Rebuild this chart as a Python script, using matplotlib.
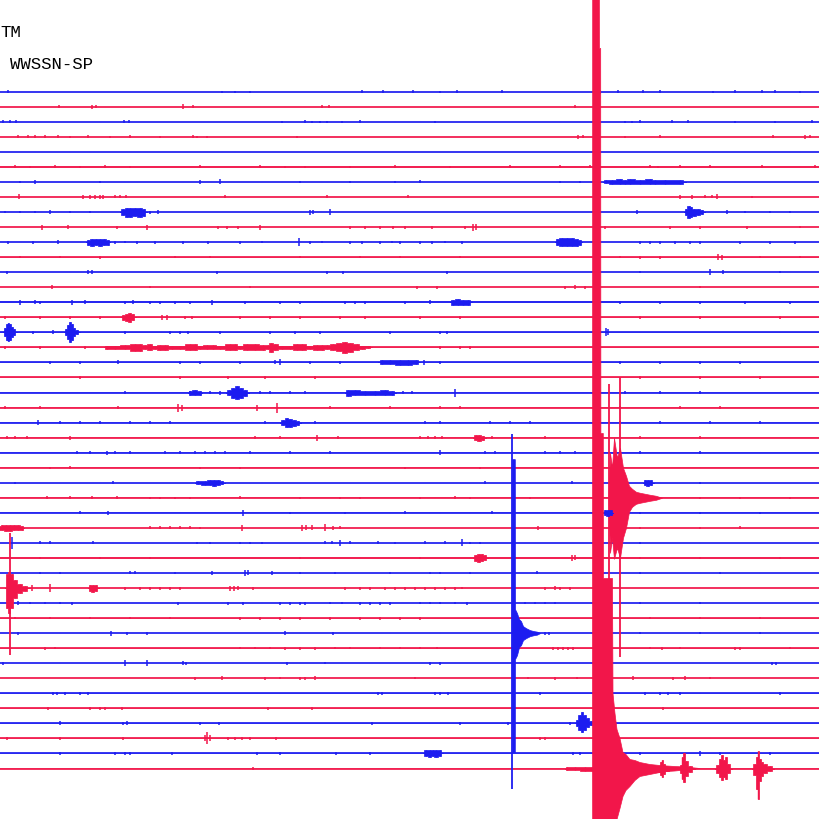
import matplotlib
matplotlib.use("Agg")
import matplotlib.pyplot as plt

# ---------------- data ----------------
# time axis: 0..820 (one unit per screen column); amplitudes in pixels
N_TRACES = 46
TRACE_COLORS = ["blue", "red"]          # alternating, first trace blue
HEADER_LINES = ["TM", "WWSSN-SP"]

# background noise half-width per trace
NOISE = [0, 0, 0, 0, 0, 0.7, 0.2, 0.2, 0.3, 0.2,
         0.3, 0.4, 0.2, 0.2, 0.8, 0.5, 0.2, 0.4, 0.2, 0.2,
         0.2, 0.3, 0.2, 0.2, 0.3, 0.4, 0.2, 0.4, 0.4, 0.3,
         0.3, 0.6, 0.2, 0.3, 0.3, 0.5, 0.3, 0.4, 0.2, 0.2,
         0.2, 0.3, 0.2, 0.2, 0.4, 0.3]

# small blips: trace -> [(time, half amplitude)]
BLIPS = {
    0: [(8, 1.5), (222, 1.2), (235, 1.2), (250, 1.2), (362, 1.5), (383, 1.5), (413, 1.5), (440, 1.2), (457, 1.5),
        (502, 1.5), (600, 2), (618, 1.5), (643, 1.5), (660, 1.5), (713, 1.2), (735, 1.5), (762, 1.5), (775, 1.5), (800, 1.2)],
    1: [(59, 1.5), (92, 2), (96, 1.5), (183, 2.5), (193, 1.5), (322, 1.5), (329, 1.5), (575, 1.5)],
    2: [(3, 1.5), (10, 1.5), (16, 1.5), (124, 1.5), (129, 1.5), (282, 1.2), (305, 1.5), (312, 1.2), (320, 1.2), (327, 1.2),
        (342, 1.2), (360, 1.5), (435, 1.2), (625, 1.2), (632, 1.2), (640, 1.5), (672, 1.5), (688, 1.5), (735, 1.2), (775, 1.2), (812, 1.5)],
    3: [(18, 1.5), (28, 1.5), (35, 1.5), (45, 1.5), (58, 1.5), (70, 1.2), (88, 1.5), (110, 1.2), (130, 1.5), (160, 1.2), (193, 1.5),
        (197, 1.2), (207, 1.2), (297, 1.2), (578, 2), (583, 1.5), (625, 1.2), (660, 1.5), (773, 1.5), (805, 2), (810, 1.5)],
    4: [],
    5: [(15, 1.5), (30, 1.2), (55, 1.5), (80, 1.2), (105, 1.5), (130, 1.2), (200, 1.5), (260, 1.5), (285, 1.2), (305, 1.2),
        (350, 1.2), (395, 1.5), (450, 1.2), (510, 1.5), (560, 1.5), (590, 1.5), (650, 1.5), (658, 1.2), (680, 1.5), (710, 1.5),
        (762, 1.5), (815, 1.5)],
    6: [(20, 1.2), (35, 2), (100, 1.2), (200, 2), (220, 2.5), (300, 1.2), (350, 1.2), (395, 1.2), (420, 1.5), (560, 1.2), (580, 1.2)],
    7: [(19, 2.5), (83, 2), (90, 2), (95, 2), (100, 2), (103, 2), (115, 1.5), (120, 1.5), (126, 1.5), (225, 1.5), (327, 1.5),
        (408, 1.5), (680, 2), (692, 2), (705, 1.5), (712, 1.5), (717, 2.5), (752, 1.2)],
    8: [(5, 1.2), (20, 1.2), (35, 1.2), (50, 2), (70, 1.2), (90, 1.2), (150, 1.5), (158, 2), (310, 2.5), (313, 2), (330, 3),
        (637, 2), (727, 2), (745, 1.2), (770, 1.2), (790, 1.2)],
    9: [(42, 2.5), (68, 2), (117, 1.5), (147, 2.5), (218, 1.5), (227, 1.5), (238, 1.5), (260, 2.5), (350, 1.5), (365, 1.5),
        (380, 1.5), (393, 1.5), (405, 1.5), (432, 1.5), (465, 1.5), (473, 3.5), (476, 3), (605, 1.5), (670, 1.5), (700, 1.5),
        (747, 1.5), (800, 1.2)],
    10: [(8, 1.5), (33, 1.5), (58, 2), (115, 1.5), (125, 1.2), (137, 1.5), (155, 1.5), (183, 1.5), (208, 1.5), (240, 1.5),
         (262, 1.2), (299, 4), (310, 1.5), (322, 1.2), (350, 1.5), (362, 1.5), (380, 1.5), (392, 1.2), (400, 1.5), (420, 1.5),
         (432, 1.5), (445, 1.2), (462, 1.5), (640, 1.5), (650, 1.5), (660, 1.5), (675, 1.5), (690, 1.5), (700, 1.5), (740, 1.5),
         (770, 1.5), (795, 1.5)],
    11: [(20, 1.2), (60, 1.2), (100, 1.5), (175, 1.2), (210, 1.2), (300, 1.2), (360, 1.2), (400, 1.2), (460, 1.2), (620, 1.2),
         (640, 1.5), (660, 1.5), (718, 3), (722, 2.5), (760, 1.2), (800, 1.2)],
    12: [(7, 1.5), (88, 2), (92, 2), (217, 1.5), (327, 1.5), (343, 1.5), (447, 1.5), (640, 1.2), (710, 3), (723, 2), (780, 1.2)],
    13: [(52, 2), (150, 1.2), (250, 1.2), (417, 1.5), (437, 1.5), (565, 1.5), (575, 2), (585, 1.5), (700, 1.2)],
    14: [(20, 2.5), (35, 2), (40, 1.5), (72, 2.5), (85, 2), (125, 1.5), (133, 2), (150, 1.5), (160, 1.5), (175, 1.5), (190, 1.5),
         (212, 2.5), (245, 1.5), (280, 1.5), (300, 1.5), (345, 1.5), (355, 1.5), (365, 1.5), (405, 1.5), (430, 2), (620, 1.5),
         (660, 1.5), (700, 1.5), (745, 1.5), (790, 1.5)],
    15: [(5, 1.5), (40, 1.2), (70, 1.2), (100, 1.2), (162, 2.5), (167, 2.5), (185, 1.5), (192, 1.5), (240, 1.5), (270, 1.5),
         (300, 1.5), (340, 1.5), (365, 1.5), (420, 1.2), (460, 1.5), (640, 1.2), (700, 1.2), (780, 1.2)],
    16: [(33, 1.5), (53, 2), (125, 1.5), (170, 1.5), (180, 1.5), (188, 1.5), (220, 1.5), (270, 1.5), (295, 1.5), (320, 1.2),
         (390, 1.5), (440, 1.5), (447, 1.5), (606, 4), (608, 3)],
    17: [(5, 1.5), (40, 1.5), (85, 1.2), (440, 1.5), (460, 1.5), (470, 1.5)],
    18: [(50, 1.2), (80, 1.2), (118, 2), (180, 1.2), (200, 1.2), (240, 1.2), (275, 2), (280, 3), (310, 1.2), (340, 1.2),
         (424, 2.5), (440, 1.2), (620, 1.2), (660, 1.2), (700, 1.2), (740, 1.2)],
    19: [(80, 1.5), (180, 1.2), (228, 1.5), (265, 1.2), (315, 1.2), (600, 1.2), (640, 1.2), (700, 1.2), (760, 1.2)],
    20: [(125, 1.5), (190, 1.5), (210, 1.5), (220, 2), (260, 1.5), (270, 1.5), (290, 1.2), (305, 1.2), (403, 1.5), (412, 1.5),
         (455, 4), (625, 1.5), (660, 1.2), (700, 1.2)],
    21: [(5, 1.5), (40, 1.2), (118, 1.5), (178, 4), (182, 3), (257, 3), (277, 5), (330, 1.5), (390, 1.5), (440, 1.5),
         (460, 1.2), (620, 1.2), (680, 1.2), (720, 1.2)],
    22: [(38, 2.5), (60, 1.2), (80, 1.2), (100, 1.2), (130, 1.2), (150, 1.2), (170, 1.2), (265, 1.5), (315, 1.2), (425, 1.2),
         (440, 1.2), (490, 1.2), (510, 1.2), (530, 1.5), (620, 1.2), (660, 1.5), (710, 1.2), (760, 1.2)],
    23: [(7, 1.5), (15, 1.5), (27, 1.5), (70, 2), (255, 1.2), (280, 1.5), (317, 3), (338, 1.5), (420, 1.5), (428, 1.5),
         (435, 1.5), (442, 1.5), (492, 1.5), (545, 1.2), (640, 1.2), (700, 1.2)],
    24: [(77, 1.5), (90, 1.5), (107, 2), (115, 1.5), (130, 1.5), (165, 1.5), (180, 1.5), (195, 1.5), (205, 1.5), (215, 1.5),
         (225, 1.2), (250, 1.2), (290, 1.5), (330, 1.5), (440, 2.5), (485, 1.2), (495, 1.2), (545, 1.2), (560, 1.2), (575, 1.2),
         (640, 1.2), (700, 1.2)],
    25: [(50, 1.2), (70, 1.5), (200, 1.2), (240, 1.2), (405, 1.2), (480, 1.2)],
    26: [(15, 1.2), (113, 1.5), (485, 1.5), (572, 1.5), (700, 1.2)],
    27: [(47, 1.5), (70, 1.5), (92, 1.5), (117, 1.5), (150, 1.2), (160, 1.2), (175, 1.2), (190, 1.2), (240, 1.5), (300, 1.2),
         (340, 1.2), (360, 1.2), (420, 1.2), (455, 1.5), (470, 1.2), (530, 1.2), (700, 1.2), (740, 1.2), (790, 1.2)],
    28: [(80, 1.5), (108, 2), (243, 3), (290, 1.2), (345, 1.2), (405, 1.5), (492, 1.5), (640, 1.2), (700, 1.2), (760, 1.2)],
    29: [(150, 1.5), (160, 1.5), (170, 1.5), (180, 1.5), (190, 1.5), (200, 1.2), (242, 3), (302, 3), (306, 2.5), (312, 2.5),
         (325, 3.5), (333, 2), (340, 1.5), (538, 2), (640, 1.2), (700, 1.2), (740, 1.5)],
    30: [(12, 6), (40, 1.5), (50, 1.5), (93, 1.5), (197, 1.2), (210, 1.2), (240, 1.2), (250, 1.2), (262, 1.2), (325, 1.5),
         (332, 1.5), (340, 3), (350, 1.5), (378, 1.5), (395, 1.2), (425, 1.5), (445, 1.5), (462, 3.5), (470, 1.2), (480, 1.2),
         (640, 1.2)],
    31: [(40, 1.2), (100, 1.2), (150, 1.2), (300, 1.2), (420, 1.2), (572, 3), (575, 2.5), (640, 1.2), (700, 1.2), (780, 1.2)],
    32: [(40, 1.2), (60, 1.2), (130, 1.5), (135, 1.5), (175, 1.2), (212, 2), (245, 3), (248, 2.5), (272, 2), (300, 1.2),
         (335, 1.2), (390, 1.2), (430, 1.2), (440, 1.2), (470, 1.2), (537, 1.5), (640, 1.2), (720, 1.2)],
    33: [(32, 3), (50, 4), (125, 1.5), (140, 1.5), (150, 1.5), (160, 1.5), (170, 1.5), (180, 1.5), (230, 2.5), (234, 2.5),
         (238, 2), (253, 1.5), (345, 1.5), (360, 1.5), (370, 1.5), (385, 1.5), (395, 1.5), (405, 1.5), (415, 1.5), (425, 1.5),
         (435, 1.5), (445, 1.5), (455, 1.5), (462, 1.2), (545, 1.5), (555, 2), (560, 1.5), (570, 1.5)],
    34: [(18, 2), (30, 1.2), (45, 1.2), (60, 1.2), (72, 1.5), (178, 1.5), (228, 1.5), (243, 1.5), (280, 1.5), (290, 1.5),
         (300, 1.5), (305, 1.5), (330, 1.2), (342, 1.2), (360, 1.5), (370, 1.5), (380, 1.5), (390, 1.5), (420, 1.2), (430, 1.2),
         (440, 1.2), (455, 1.2), (467, 1.5), (525, 1.2), (535, 1.2), (545, 1.2), (555, 1.2), (640, 1.2), (700, 1.2)],
    35: [(15, 1.2), (50, 1.2), (90, 1.2), (130, 1.2), (170, 1.2), (240, 1.5), (260, 1.5), (280, 1.5), (300, 1.5), (330, 1.5),
         (360, 1.5), (380, 1.5), (400, 1.5), (420, 1.5), (650, 1.2), (700, 1.2), (760, 1.2)],
    36: [(18, 1.5), (111, 2.5), (127, 1.5), (147, 1.5), (285, 2), (333, 1.5), (545, 1.5), (549, 1.5), (640, 1.2), (700, 1.2),
         (760, 1.2)],
    37: [(45, 1.5), (55, 1.2), (240, 1.2), (255, 1.2), (270, 1.2), (285, 1.5), (300, 1.5), (315, 1.5), (335, 1.2), (350, 1.2),
         (380, 1.2), (400, 1.2), (420, 1.2), (437, 1.2), (553, 1.5), (558, 1.5), (563, 1.5), (568, 1.5), (573, 1.5), (650, 1.2),
         (662, 1.5), (680, 1.2), (735, 1.5), (740, 1.5), (790, 1.2)],
    38: [(3, 1.5), (125, 3), (147, 3), (183, 2), (186, 1.5), (287, 1.5), (325, 1.2), (430, 1.5), (440, 1.5), (772, 1.5), (776, 1.5)],
    39: [(195, 1.5), (222, 2), (265, 1.5), (280, 1.2), (300, 1.5), (305, 1.5), (315, 2), (415, 1.2), (528, 1.2), (555, 1.5),
         (577, 1.2), (633, 2), (673, 1.5), (685, 2), (710, 1.2)],
    40: [(53, 1.5), (57, 1.5), (65, 1.5), (80, 1.2), (88, 1.2), (378, 1.5), (382, 1.5), (435, 1.2), (440, 1.2), (448, 1.2),
         (540, 1.2), (645, 1.2), (660, 1.5), (668, 1.5), (680, 1.2), (780, 1.2)],
    41: [(48, 1.5), (90, 1.5), (100, 1.5), (105, 1.5), (122, 1.5), (268, 1.2), (312, 1.2), (663, 1.5)],
    42: [(60, 2), (123, 1.5), (127, 2), (200, 1.5), (219, 1.2), (372, 1.5), (460, 1.5), (508, 1.5), (570, 1.5)],
    43: [(7, 1.5), (60, 1.5), (123, 1.5), (205, 3), (207, 6), (210, 3), (228, 1.5), (235, 1.5), (242, 1.5), (250, 1.5),
         (276, 1.2), (540, 1.2), (545, 1.5)],
    44: [(60, 1.5), (115, 1.5), (125, 1.5), (130, 1.5), (172, 1.5), (257, 1.2), (280, 1.2), (336, 1.2), (370, 1.5), (573, 1.5),
         (580, 1.2), (640, 1.2), (700, 2.5), (720, 1.5), (770, 1.5)],
    45: [(253, 1.2)],
}

# large single swings: (trace, time, up, down)
SPIKES = [
    (27, 609, 114, 159),
    (27, 620, 121, 159),
    (33, 10, 55, 67),
    (36, 512.5, 199, 156),
]

# wave trains / envelopes: (trace, times, up amplitudes, down amplitudes)
BURSTS = [
    (6, [603, 606, 612, 620, 625, 630, 640, 650, 655, 665, 680, 686],
        [0, 1.5, 2, 2.5, 2.2, 2.5, 2, 2.5, 2, 2, 2, 0], None),
    (8, [120, 123, 127, 130, 135, 140, 144, 147], [0, 3, 4.5, 4.5, 4, 4.5, 3.5, 0], None),
    (8, [684, 686, 689, 691, 694, 698, 702, 705], [0, 3, 6, 5, 3.5, 3, 2, 0], None),
    (10, [86, 88, 92, 96, 100, 104, 108, 110], [0, 2.5, 3.5, 3, 3.5, 3, 2.5, 0], None),
    (10, [555, 557, 562, 567, 572, 577, 580, 582], [0, 3, 4, 4, 4, 3.5, 2.5, 0], None),
    (14, [450, 453, 458, 463, 468, 472], [0, 2.5, 3, 2.5, 2.5, 0], None),
    (15, [121, 123, 127, 130, 133, 136], [0, 2.5, 3.5, 4.5, 3, 0], None),
    (16, [3, 5, 7, 8.5, 10, 12, 14, 17], [0, 4, 8, 9, 8, 5, 3, 0], None),
    (16, [64, 66, 68, 70, 72, 74, 77, 80], [0, 3, 7, 10, 8, 4, 2, 0], None),
    (17, [104, 107, 115, 125, 135, 140, 145, 150, 155, 160, 165, 172, 180, 190, 195, 200, 207, 213, 220, 230,
          235, 240, 247, 255, 263, 268, 271, 275, 282, 290, 297, 302, 310, 317, 322, 327, 333, 340, 345, 350,
          357, 362, 368, 372],
         [0, 1.5, 1.5, 2, 3.5, 3.5, 2, 3, 1.5, 2.5, 2.5, 1.2, 1.5, 3, 3, 1.5, 2, 2, 1.2, 3,
          3, 1.5, 3, 3, 2.5, 2, 4.5, 3, 1.5, 1.2, 3, 3, 1.2, 2.5, 2.5, 2, 3, 4, 5.5, 4.5,
          3, 1.5, 1, 0], None),
    (18, [378, 382, 390, 400, 408, 416, 420], [0, 2, 2, 2.5, 2.5, 2, 0], None),
    (20, [226, 229, 233, 237, 241, 245, 249], [0, 2.5, 5, 6.5, 5, 3, 0], None),
    (20, [188, 190, 195, 200, 202], [0, 2, 2.5, 2, 0], None),
    (20, [345, 348, 355, 365, 375, 385, 392, 396], [0, 3, 2.5, 2, 2, 2.5, 2, 0], None),
    (22, [280, 283, 287, 290, 294, 298, 301], [0, 2.5, 4.5, 4, 3, 2, 0], None),
    (23, [473, 476, 479, 483, 486], [0, 2.5, 3, 2, 0], None),
    (26, [195, 198, 205, 210, 214, 218, 222, 225], [0, 1.5, 2, 2.5, 3, 2.5, 1.5, 0], None),
    (26, [643, 645, 648, 651, 654], [0, 2.5, 3, 2.5, 0], None),
    (27, [608.5, 610, 612, 614, 617, 620, 623, 626, 629, 632, 636, 640, 645, 650, 656, 662],
         [0, 45, 30, 60, 40, 50, 30, 22, 12, 9, 6, 5, 4, 3, 2, 0],
         [0, 55, 40, 61, 50, 60, 40, 30, 14, 9, 6, 5, 4, 3, 2, 0]),
    (28, [603, 605, 608, 611, 613], [0, 2.5, 3, 2.5, 0], None),
    (29, [0, 2, 6, 10, 14, 18, 22, 24], [2, 2.5, 3, 3, 2.5, 2.5, 2, 0], None),
    (31, [473, 476, 479, 482, 485, 488], [0, 3, 4, 3.5, 2.5, 0], None),
    (33, [5, 7, 9, 12, 15, 20, 25, 30], [0, 14, 16, 14, 8, 4, 2.5, 0], [0, 20, 25, 20, 10, 5, 2.5, 0]),
    (33, [88, 90, 93, 96, 99], [0, 3, 3.5, 3, 0], None),
    (36, [512, 512.3, 514.8, 515, 517, 519, 521, 523, 526, 530, 534, 537, 540],
         [0, 174, 174, 24, 20, 14, 12, 7, 5, 3, 2, 1.5, 0], [0, 119, 119, 26, 22, 14, 12, 7, 5, 3, 2, 1.5, 0]),
    (42, [575, 577, 580, 582, 585, 588, 591, 594], [0, 3, 8, 11, 8, 5, 2.5, 0], [0, 3, 7, 9, 7, 4, 2, 0]),
    (44, [423, 426, 430, 433, 436, 440, 443], [0, 3, 3.5, 3, 3.5, 3, 0], None),
    (45, [565, 567, 575, 585, 592], [0, 1.5, 1.5, 2, 2], None),
    (45, [592.5, 592.7, 599.3, 599.5, 600.7, 600.9, 603.3, 603.5, 612.5, 613, 615, 617, 620, 623, 626, 630, 635,
          640, 645, 650, 655, 660, 667, 675, 685, 700],
         [0, 820, 820, 720, 720, 335, 335, 190, 190, 75, 55, 39, 30, 16, 14, 9, 8, 6, 5, 4, 3.5, 3, 2.5, 2, 1.5, 0],
         [0, 60, 60, 60, 60, 60, 60, 60, 60, 55, 52, 51, 40, 28, 22, 18, 12, 8, 7, 6, 5, 4, 3, 2.5, 1.5, 0]),
    (45, [657, 659, 661, 662.5, 664, 667, 671], [0, 3, 7, 9, 5, 2, 0], [0, 3, 6, 8, 5, 2, 0]),
    (45, [679, 681, 682.5, 684, 686, 690, 695], [0, 4, 12, 16, 8, 3, 0], [0, 4, 10, 13, 7, 3, 0]),
    (45, [715, 718, 720, 722, 724, 726, 728, 732], [0, 4, 10, 14, 9, 12, 5, 0], [0, 4, 8, 11, 8, 10, 4, 0]),
    (45, [752, 755, 757, 758.5, 760, 762, 765, 770, 774], [0, 5, 12, 18, 10, 7, 5, 3, 0], [0, 6, 20, 30, 12, 7, 4, 2, 0]),
]

# ---------------- layout / style ----------------
W = H = 820
TOP = 92.7
SPACING = 15.04
COLOR_MAP = {"blue": "#1c1cf0", "red": "#f2164a"}

fig = plt.figure(figsize=(W / 100, H / 100), dpi=100)
ax = fig.add_axes([0, 0, 1, 1])
ax.set_xlim(0, W)
ax.set_ylim(H, 0)
ax.axis("off")
fig.patch.set_facecolor("white")


def base(i):
    return TOP + i * SPACING


def col(i):
    return COLOR_MAP[TRACE_COLORS[i % 2]]


bursts_by_trace = {}
for b in BURSTS:
    bursts_by_trace.setdefault(b[0], []).append(b)
spikes_by_trace = {}
for s in SPIKES:
    spikes_by_trace.setdefault(s[0], []).append(s)

for i in range(N_TRACES):
    y0 = base(i)
    c = col(i)
    z = 2 + i * 0.01
    ax.hlines(y0, 0, W, color=c, lw=1.25, zorder=z)
    if NOISE[i] > 0:
        ax.fill_between([0, W], [y0 - NOISE[i]] * 2, [y0 + NOISE[i]] * 2,
                        color=c, lw=0, alpha=0.6, zorder=z)
    blips = BLIPS.get(i, [])
    if blips:
        xs = [b[0] for b in blips]
        amps = [b[1] for b in blips]
        ax.vlines(xs, [y0 - a for a in amps], [y0 + a for a in amps], color=c, lw=1.1, zorder=z)

for i in range(N_TRACES):
    y0 = base(i)
    c = col(i)
    z = 3 + i * 0.01
    for (_, xs, up, down) in bursts_by_trace.get(i, []):
        dn = up if down is None else down
        big = max(max(up), max(dn)) > 40
        ax.fill_between(xs, [y0 - u for u in up], [y0 + d for d in dn],
                        step=None if big else "mid",
                        color=c, lw=0.5, edgecolor=c, zorder=z)
        if not big:
            ax.vlines(xs, [y0 - u for u in up], [y0 + d for d in dn], color=c, lw=1.0, zorder=z)
    for (_, x, up, down) in spikes_by_trace.get(i, []):
        ax.vlines(x, y0 - up, y0 + down, color=c, lw=1.3, zorder=z)

ax.text(0, 37, HEADER_LINES[0], fontsize=12.5, family="Liberation Mono", color="black", va="baseline")
ax.text(10, 69, HEADER_LINES[1], fontsize=12.5, family="Liberation Mono", color="black", va="baseline")

fig.savefig("out.png", dpi=100, facecolor="white")
